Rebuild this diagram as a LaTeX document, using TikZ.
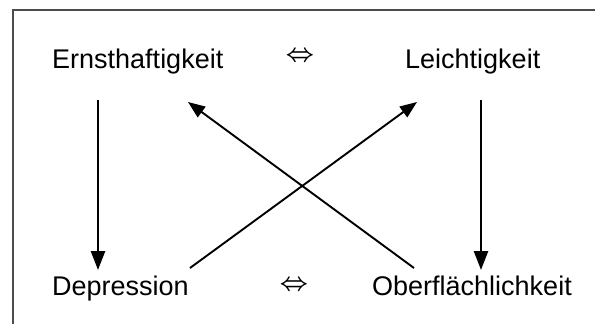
\documentclass[tikz,border=0pt]{standalone}
\usepackage{amsmath}
\usepackage{fontspec}
\setmainfont{Liberation Sans}
\usetikzlibrary{arrows.meta}
\begin{document}
\begin{tikzpicture}[x=1pt,y=-1pt,
  lbl/.style={anchor=base west,inner sep=0pt,font=\fontsize{27}{30}\selectfont},
  eqv/.style={inner sep=0pt,font=\fontsize{24}{26}\selectfont},
  vert/.style={line width=2.6pt,-{Triangle[length=19pt,width=14pt]}},
  diag/.style={line width=1.9pt,-{Triangle[length=17pt,width=13pt]}}]
\useasboundingbox (0,0) rectangle (595,324);
\fill[white] (0,0) rectangle (595,324);
\draw[line width=1.5pt,color=black!70] (13,324) -- (13,10) -- (595,10);
\node[lbl] (ern) at (52,68) {Ernsthaftigkeit};
\node[lbl] (lei) at (405,68) {Leichtigkeit};
\node[lbl] (dep) at (52,295) {Depression};
\node[lbl] (obe) at (372,295) {Oberflächlichkeit};
\node[eqv] (eq1) at (300,57) {$\boldsymbol{\Leftrightarrow}$};
\node[eqv] (eq2) at (294,286) {$\boldsymbol{\Leftrightarrow}$};
\coordinate (a1) at (98,100);
\coordinate (a2) at (98,270);
\coordinate (b1) at (481,100);
\coordinate (b2) at (481,270);
\coordinate (c1) at (190,268);
\coordinate (c2) at (417,102);
\coordinate (d1) at (414,268);
\coordinate (d2) at (188,102);
\draw[vert] (a1) -- (a2);
\draw[vert] (b1) -- (b2);
\draw[diag] (c1) -- (c2);
\draw[diag] (d1) -- (d2);
\end{tikzpicture}
\end{document}
